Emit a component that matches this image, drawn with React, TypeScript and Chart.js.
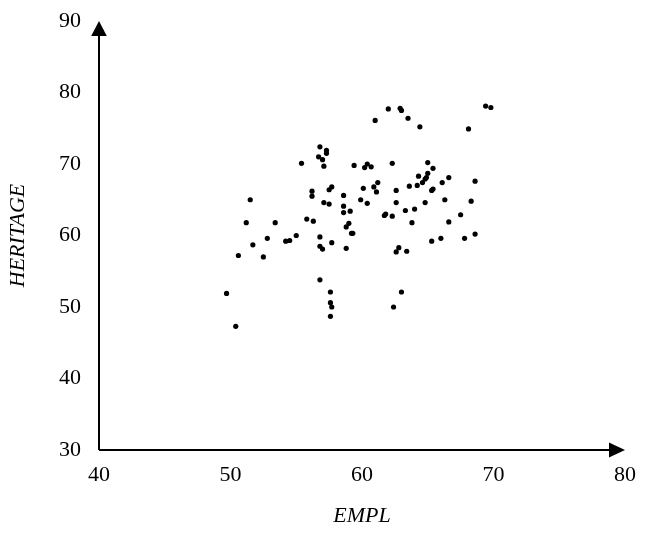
import React, { useEffect, useRef } from "react";
import { Chart, registerables } from "chart.js";

Chart.register(...registerables);

const empl: number[] = [
  49.7, 50.4, 50.6, 51.2, 51.5, 51.7, 52.5, 52.8, 53.4, 54.2,
  54.5, 55.0, 55.4, 55.8, 56.2, 56.2, 56.3, 56.8, 56.7, 57.0,
  57.1, 57.3, 57.3, 56.8, 56.8, 57.0, 57.1, 57.5, 57.5, 57.7,
  57.7, 56.8, 57.6, 57.6, 57.7, 57.6, 58.6, 58.6, 58.6, 59.1,
  58.8, 59.0, 59.2, 59.3, 58.8, 59.4, 59.9, 60.1, 60.2, 60.4,
  60.7, 60.4, 60.9, 61.1, 61.2, 61.0, 62.0, 62.3, 61.7, 61.8,
  62.3, 62.4, 62.6, 62.6, 62.6, 62.8, 62.9, 63.0, 63.5, 63.0,
  63.3, 63.4, 63.6, 63.8, 64.0, 64.2, 64.3, 64.4, 64.6, 64.8,
  64.9, 65.0, 65.0, 65.4, 65.3, 65.4, 64.8, 65.3, 66.0, 66.1,
  66.3, 66.6, 66.6, 67.5, 67.8, 68.1, 68.3, 68.6, 68.6, 69.4,
  69.8,
];

const heritage: number[] = [
  51.9, 47.3, 57.2, 61.8, 65.0, 58.7, 57.0, 59.6, 61.8, 59.2,
  59.3, 60.0, 70.1, 62.3, 66.2, 65.5, 62.0, 72.4, 71.0, 70.6,
  69.7, 71.9, 71.5, 59.8, 58.5, 58.1, 64.6, 64.4, 66.4, 66.8,
  59.0, 53.8, 52.1, 50.6, 50.0, 48.7, 65.6, 64.1, 63.2, 63.4,
  61.2, 61.7, 60.3, 60.3, 58.2, 69.8, 65.0, 66.6, 69.5, 70.0,
  69.6, 64.5, 66.8, 66.1, 67.4, 76.1, 77.7, 70.1, 62.8, 63.0,
  62.7, 50.0, 66.3, 64.6, 57.7, 58.3, 77.8, 77.5, 76.4, 52.1,
  63.5, 57.8, 66.9, 61.8, 63.7, 67.0, 68.3, 75.2, 67.4, 67.9,
  68.1, 68.7, 70.2, 69.4, 66.3, 66.5, 64.6, 59.2, 59.6, 67.4,
  65.0, 68.1, 61.9, 62.9, 59.6, 74.9, 64.8, 67.6, 60.2, 78.1,
  77.9,
];

const xTicks: number[] = [40, 50, 60, 70, 80];
const yTicks: number[] = [30, 40, 50, 60, 70, 80, 90];
const xTitle = "EMPL";
const yTitle = "HERITAGE";

const arrowAxes = {
  id: "arrowAxes",
  afterDraw(chart: any) {
    const { ctx, chartArea } = chart;
    const { left, right, top, bottom } = chartArea;
    ctx.save();
    ctx.strokeStyle = "#000";
    ctx.fillStyle = "#000";
    ctx.lineWidth = 2;
    ctx.beginPath();
    ctx.moveTo(left, bottom);
    ctx.lineTo(right - 14, bottom);
    ctx.moveTo(left, bottom);
    ctx.lineTo(left, top + 14);
    ctx.stroke();
    // x arrowhead
    ctx.beginPath();
    ctx.moveTo(right, bottom);
    ctx.lineTo(right - 16, bottom - 7.5);
    ctx.lineTo(right - 16, bottom + 7.5);
    ctx.closePath();
    ctx.fill();
    // y arrowhead
    ctx.beginPath();
    ctx.moveTo(left, top);
    ctx.lineTo(left - 7.8, top + 15);
    ctx.lineTo(left + 7.8, top + 15);
    ctx.closePath();
    ctx.fill();
    ctx.restore();
  },
};

export default function App() {
  const ref = useRef<HTMLCanvasElement | null>(null);

  useEffect(() => {
    if (!ref.current) return;
    const points = empl.map((x, i) => ({ x, y: heritage[i] }));
    const font = { family: "'Liberation Serif', 'Times New Roman', serif", size: 22 };
    const chart = new Chart(ref.current, {
      type: "scatter",
      data: {
        datasets: [
          {
            data: points,
            backgroundColor: "#000",
            borderColor: "#000",
            pointRadius: 2.6,
            pointHoverRadius: 2.6,
            borderWidth: 0,
          },
        ],
      },
      options: {
        responsive: false,
        animation: false,
        devicePixelRatio: 1,
        layout: { padding: { left: 0, right: 23, top: 21, bottom: 0 } },
        plugins: {
          legend: { display: false },
          tooltip: { enabled: false },
        },
        scales: {
          x: {
            type: "linear",
            min: 40,
            max: 80,
            afterBuildTicks: (s: any) => {
              s.ticks = xTicks.map((v) => ({ value: v }));
            },
            afterFit: (s: any) => {
              s.height = 83;
              s.paddingLeft = 0;
              s.paddingRight = 0;
            },
            grid: { display: false, drawTicks: false },
            border: { display: false },
            ticks: { color: "#000", font, padding: 12, maxRotation: 0 },
            title: {
              display: true,
              text: xTitle,
              color: "#000",
              font: { ...font, style: "italic" },
              padding: { top: 0, bottom: 4 },
            },
          },
          y: {
            type: "linear",
            min: 30,
            max: 90,
            afterBuildTicks: (s: any) => {
              s.ticks = yTicks.map((v) => ({ value: v }));
            },
            afterFit: (s: any) => {
              s.width = 99;
              s.paddingTop = 0;
              s.paddingBottom = 0;
            },
            grid: { display: false, drawTicks: false },
            border: { display: false },
            ticks: { color: "#000", font, padding: 18 },
            title: {
              display: true,
              text: yTitle,
              color: "#000",
              font: { ...font, style: "italic" },
              padding: { top: 5, bottom: 0 },
            },
          },
        },
      },
      plugins: [arrowAxes],
    } as any);
    return () => chart.destroy();
  }, []);

  return (
    <div style={{ position: "absolute", left: 0, top: 0, width: 648, height: 533, background: "#fff" }}>
      <canvas ref={ref} width={648} height={533} style={{ width: 648, height: 533 }} />
    </div>
  );
}
